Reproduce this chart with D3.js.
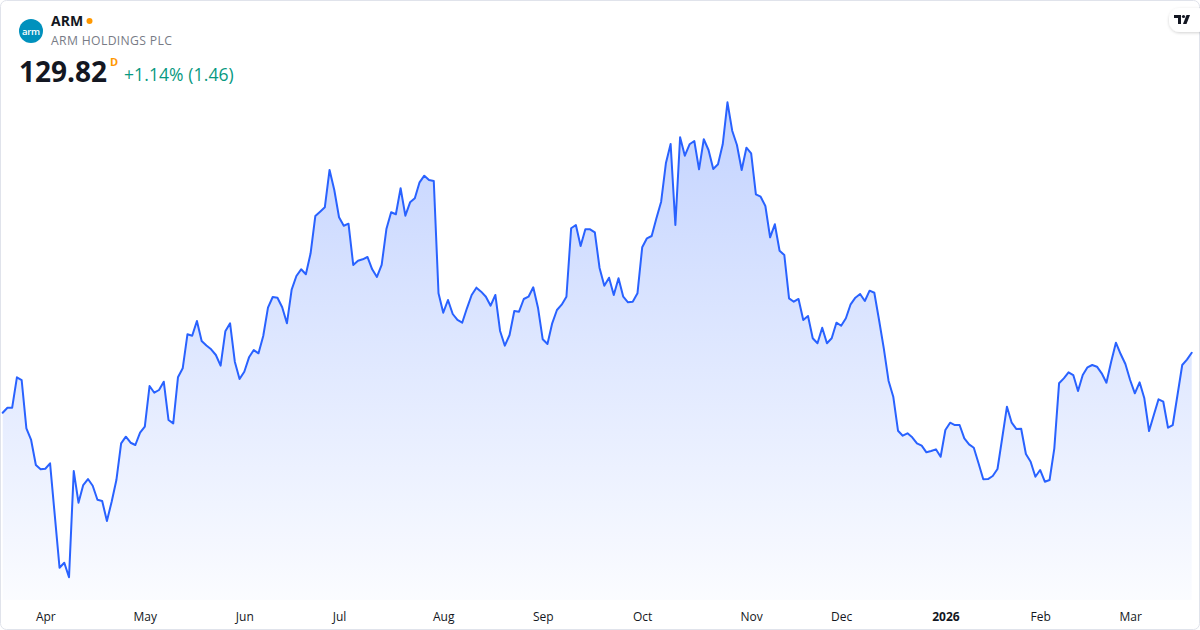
<!DOCTYPE html>
<html>
<head>
<meta charset="utf-8">
<script src="https://cdn.jsdelivr.net/npm/d3@7"></script>
<style>
  html, body { margin: 0; padding: 0; background: #ffffff; }
  svg { display: block; font-family: "Open Sans", "Noto Sans", sans-serif; }
</style>
</head>
<body>
<svg id="chart" width="1200" height="630"></svg>
<script>
// ---- data (ARM daily closes, ~Mar 2025 – Mar 2026) ----
const symbol = "ARM";
const companyName = "ARM HOLDINGS PLC";
const lastPrice = "129.82";
const intervalLabel = "D";
const changeText = "+1.14% (1.46)";

const prices = [
  117.08,118.14,118.14,124.59,124.02,113.76,111.28,105.97,105.05,105.18,
  106.33,95.20,84.15,85.22,82.12,104.69,97.96,101.72,102.99,101.57,
  98.60,98.32,94.07,98.17,102.78,110.58,111.98,110.70,110.22,112.83,
  114.10,122.75,121.32,121.90,123.66,115.53,114.82,124.59,126.51,133.73,
  133.43,136.55,132.31,131.35,130.54,129.33,127.06,134.37,136.06,127.91,
  124.23,125.78,128.84,130.39,129.69,133.37,139.38,141.65,141.50,139.46,
  136.06,143.20,146.11,147.53,146.47,150.93,158.86,159.77,160.70,168.63,
  164.38,158.58,156.79,157.22,148.45,149.36,149.66,150.15,147.53,145.90,
  148.45,156.09,159.64,159.22,164.74,158.92,161.76,162.61,166.01,167.41,
  166.50,166.29,142.44,138.32,141.01,138.04,136.77,136.19,139.25,142.08,
  143.63,142.78,141.71,139.80,142.08,134.43,131.31,133.58,138.68,138.53,
  141.23,141.71,143.71,139.38,132.67,131.67,136.06,138.89,140.02,141.71,
  156.24,156.94,152.48,156.03,156.03,155.39,147.81,144.05,145.75,142.08,
  145.62,141.71,140.52,140.65,142.44,152.21,154.12,154.61,158.37,161.89,
  170.05,174.15,156.94,175.57,171.66,174.08,174.78,168.77,175.15,172.87,
  168.84,169.84,174.08,183.00,176.97,173.94,168.63,173.36,172.17,163.46,
  162.95,160.98,154.33,157.09,151.48,150.57,141.37,140.65,141.23,136.77,
  137.62,132.88,131.82,135.13,131.82,132.88,136.19,135.55,137.13,140.10,
  141.50,142.29,140.80,142.99,142.56,136.77,130.75,123.87,120.47,113.25,
  112.19,112.70,111.85,110.58,110.07,108.66,108.94,109.30,107.73,113.40,
  114.95,114.46,114.46,111.64,110.36,109.64,106.33,102.93,102.99,103.63,
  105.12,111.70,118.35,114.95,113.61,113.68,108.30,106.67,103.48,104.91,
  102.42,102.78,109.51,123.32,124.38,125.66,125.08,121.69,125.08,126.72,
  127.21,126.85,125.44,123.45,127.91,131.94,129.54,127.42,124.02,121.20,
  123.53,120.13,113.19,116.59,119.92,119.41,113.89,114.46,120.84,127.21,
  128.36,129.82
];

const tickLabels = ["Apr","May","Jun","Jul","Aug","Sep","Oct","Nov","Dec","2026","Feb","Mar"];
const tickIndex  = [9, 30, 51, 71, 93, 114, 135, 158, 177, 199, 219, 238];
const boldTicks  = ["2026"];

// ---- drawing ----
const W = 1200, H = 630;
const svg = d3.select("#chart");

// card
svg.append("rect")
  .attr("x", 0.5).attr("y", 0.5).attr("width", W - 1).attr("height", H - 1)
  .attr("rx", 6).attr("fill", "#ffffff").attr("stroke", "#e0e3eb");

const plotBottom = 600;
const x = d3.scaleLinear().domain([0, prices.length - 1]).range([2.7, 1191.7]);
const y = d3.scaleLinear()
  .domain([d3.min(prices), d3.max(prices)])
  .range([577.3, 102.3]);

const defs = svg.append("defs");
const grad = defs.append("linearGradient")
  .attr("id", "areaGrad").attr("gradientUnits", "userSpaceOnUse")
  .attr("x1", 0).attr("x2", 0)
  .attr("y1", y(d3.max(prices))).attr("y2", plotBottom);
grad.append("stop").attr("offset", "0%").attr("stop-color", "#2962ff").attr("stop-opacity", 0.28);
grad.append("stop").attr("offset", "100%").attr("stop-color", "#2962ff").attr("stop-opacity", 0.02);

const area = d3.area()
  .x((d, i) => x(i))
  .y0(plotBottom)
  .y1(d => y(d));
const line = d3.line()
  .x((d, i) => x(i))
  .y(d => y(d));

svg.append("path").datum(prices)
  .attr("d", area).attr("fill", "url(#areaGrad)");
svg.append("path").datum(prices)
  .attr("d", line).attr("fill", "none")
  .attr("stroke", "#2962ff").attr("stroke-width", 2)
  .attr("stroke-linejoin", "round").attr("stroke-linecap", "round");

// x axis
const xAxis = d3.axisBottom(x)
  .tickValues(tickIndex)
  .tickFormat((d, i) => tickLabels[i])
  .tickSize(0).tickPadding(0);
const gx = svg.append("g").attr("transform", "translate(0,612.5)").call(xAxis);
gx.select(".domain").remove();
gx.selectAll("text")
  .attr("dy", "0.71em")
  .attr("fill", "#131722")
  .style("font-size", "12px")
  .style("font-family", "'Open Sans', 'Noto Sans', sans-serif")
  .style("font-weight", (d, i) => boldTicks.includes(tickLabels[i]) ? 700 : 400);

// header
const hdr = svg.append("g");
hdr.append("circle").attr("cx", 31).attr("cy", 31).attr("r", 12).attr("fill", "#0091bd");
hdr.append("text").attr("x", 31).attr("y", 34.5).attr("text-anchor", "middle")
  .attr("fill", "#ffffff").style("font-size", "9.5px").style("font-weight", 600)
  .style("letter-spacing", "-0.3px").text("arm");

hdr.append("text").attr("x", 51).attr("y", 26)
  .attr("fill", "#131722").style("font-size", "14px").style("font-weight", 700)
  .text(symbol);
hdr.append("circle").attr("cx", 89.5).attr("cy", 21).attr("r", 3).attr("fill", "#ff9800");
hdr.append("text").attr("x", 51).attr("y", 45)
  .attr("fill", "#787b86").style("font-size", "12.2px").style("letter-spacing", "0.35px")
  .text(companyName);

hdr.append("text").attr("x", 19).attr("y", 81.5)
  .attr("fill", "#131722").style("font-size", "28px").style("font-weight", 700)
  .text(lastPrice);
hdr.append("text").attr("x", 110).attr("y", 65.5)
  .attr("fill", "#ff9800").style("font-size", "11px").style("font-weight", 700)
  .text(intervalLabel);
hdr.append("text").attr("x", 124).attr("y", 81)
  .attr("fill", "#089981").style("font-size", "17.5px")
  .style("letter-spacing", "0.1px")
  .text(changeText);

// TradingView badge
const shadow = defs.append("filter").attr("id", "sh").attr("x", "-50%").attr("y", "-50%").attr("width", "200%").attr("height", "200%");
shadow.append("feDropShadow").attr("dx", 0).attr("dy", 1).attr("stdDeviation", 1.5)
  .attr("flood-color", "#000").attr("flood-opacity", 0.18);
svg.append("rect").attr("x", 1169).attr("y", 8).attr("width", 40).attr("height", 24)
  .attr("rx", 11).attr("fill", "#ffffff").attr("filter", "url(#sh)");
const logo = svg.append("g").attr("fill", "#131722");
logo.append("rect").attr("x", 1174).attr("y", 15).attr("width", 7).attr("height", 3);
logo.append("rect").attr("x", 1178).attr("y", 15).attr("width", 3).attr("height", 9);
logo.append("circle").attr("cx", 1183.5).attr("cy", 16.5).attr("r", 1.6);
logo.append("path").attr("d", "M1186.5 15 L1190 15 L1186.5 24 L1183 24 Z");
</script>
</body>
</html>
